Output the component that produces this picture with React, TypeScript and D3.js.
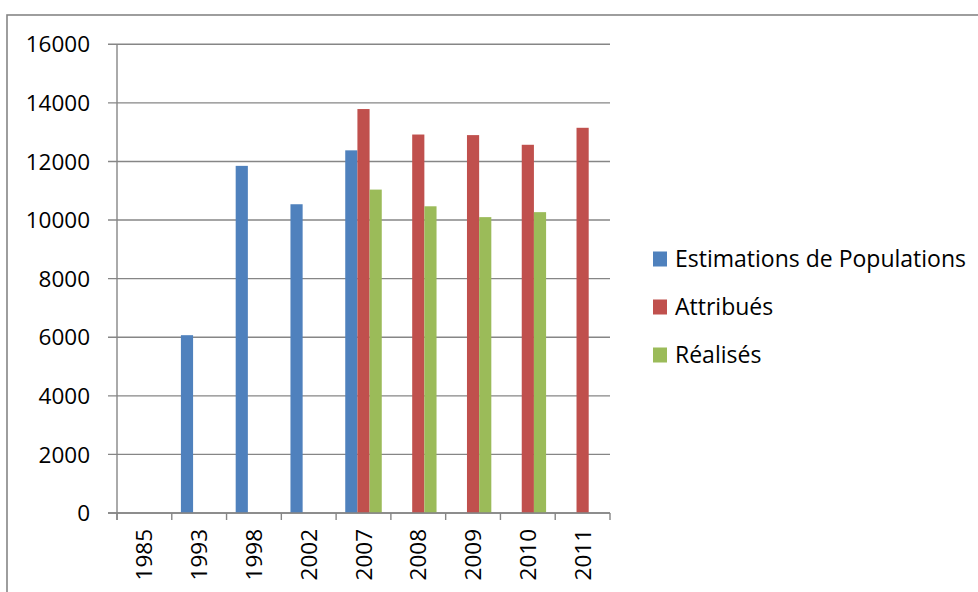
import { useEffect, useRef } from "react";
import * as d3 from "d3";

const YEARS = ["1985", "1993", "1998", "2002", "2007", "2008", "2009", "2010", "2011"];
const SERIES = ["Estimations de Populations", "Attribués", "Réalisés"];
const COLORS = ["#4F81BD", "#C0504D", "#9BBB59"];

// null = no bar
const ESTIMATIONS = [null, 6070, 11850, 10540, 12380, null, null, null, null];
const ATTRIBUES = [null, null, null, null, 13790, 12920, 12900, 12570, 13150];
const REALISES = [null, null, null, null, 11040, 10470, 10100, 10270, null];

const Y_TICKS = [0, 2000, 4000, 6000, 8000, 10000, 12000, 14000, 16000];

const W = 978;
const H = 592;
const PLOT = { left: 117, right: 610, top: 44.3, bottom: 513 };
const FONT = "'Open Sans', sans-serif";
const GRID = "#868686";

export default function App() {
  const svgRef = useRef<SVGSVGElement>(null);

  useEffect(() => {
    if (!svgRef.current) return;
    const svg = d3.select(svgRef.current);
    svg.selectAll("*").remove();

    const values = [ESTIMATIONS, ATTRIBUES, REALISES];

    // chart frame
    svg.append("rect")
      .attr("x", 7).attr("y", 15)
      .attr("width", W + 20).attr("height", H + 20)
      .attr("fill", "white")
      .attr("stroke", GRID).attr("stroke-width", 1.6);

    const x = d3.scaleBand().domain(YEARS).range([PLOT.left, PLOT.right]).paddingInner(0).paddingOuter(0);
    const step = x.step();
    const barW = step / 4.5;
    const y = d3.scaleLinear().domain([0, 16000]).range([PLOT.bottom, PLOT.top]);

    // gridlines + y ticks
    svg.append("g")
      .selectAll("line")
      .data(Y_TICKS)
      .join("line")
      .attr("x1", PLOT.left - 9).attr("x2", PLOT.right)
      .attr("y1", (d) => y(d)).attr("y2", (d) => y(d))
      .attr("stroke", GRID).attr("stroke-width", 1.4);

    svg.append("g")
      .selectAll("text")
      .data(Y_TICKS)
      .join("text")
      .attr("x", 90).attr("y", (d) => y(d))
      .attr("dy", "0.36em")
      .attr("text-anchor", "end")
      .attr("font-family", FONT).attr("font-size", 22.5)
      .attr("fill", "#000")
      .text((d) => String(d));

    // bars
    values.forEach((vals, si) => {
      svg.append("g")
        .selectAll("rect")
        .data(YEARS.map((yr, i) => ({ yr, v: vals[i] })).filter((d) => d.v != null))
        .join("rect")
        .attr("x", (d) => (x(d.yr) as number) + step / 2 - 1.5 * barW + si * barW)
        .attr("y", (d) => y(d.v as number))
        .attr("width", barW)
        .attr("height", (d) => PLOT.bottom - y(d.v as number))
        .attr("fill", COLORS[si]);
    });

    // y axis line
    svg.append("line")
      .attr("x1", PLOT.left).attr("x2", PLOT.left)
      .attr("y1", PLOT.top).attr("y2", PLOT.bottom + 7)
      .attr("stroke", GRID).attr("stroke-width", 1.4);

    // x axis line + ticks
    svg.append("line")
      .attr("x1", PLOT.left - 9).attr("x2", PLOT.right)
      .attr("y1", PLOT.bottom).attr("y2", PLOT.bottom)
      .attr("stroke", GRID).attr("stroke-width", 1.4);

    const tickXs = YEARS.map((yr) => x(yr) as number).concat([PLOT.right]);
    svg.append("g")
      .selectAll("line")
      .data(tickXs)
      .join("line")
      .attr("x1", (d) => d).attr("x2", (d) => d)
      .attr("y1", PLOT.bottom).attr("y2", PLOT.bottom + 7)
      .attr("stroke", GRID).attr("stroke-width", 1.4);

    svg.append("g")
      .selectAll("text")
      .data(YEARS)
      .join("text")
      .attr("transform", (d) => `translate(${(x(d) as number) + step / 2},529) rotate(-90)`)
      .attr("dy", "0.36em")
      .attr("text-anchor", "end")
      .attr("font-family", FONT).attr("font-size", 22.5)
      .attr("fill", "#000")
      .text((d) => d);

    // legend
    const lg = svg.append("g");
    SERIES.forEach((name, i) => {
      const cy = 259 + i * 48;
      lg.append("rect")
        .attr("x", 653).attr("y", cy - 7.5)
        .attr("width", 14).attr("height", 15)
        .attr("fill", COLORS[i]);
      lg.append("text")
        .attr("x", 675).attr("y", cy)
        .attr("dy", "0.36em")
        .attr("font-family", FONT).attr("font-size", 23)
        .attr("fill", "#000")
        .text(name);
    });
  }, []);

  return (
    <svg
      ref={svgRef}
      width={W}
      height={H}
      style={{ position: "absolute", left: 0, top: 0, background: "white" }}
    />
  );
}
